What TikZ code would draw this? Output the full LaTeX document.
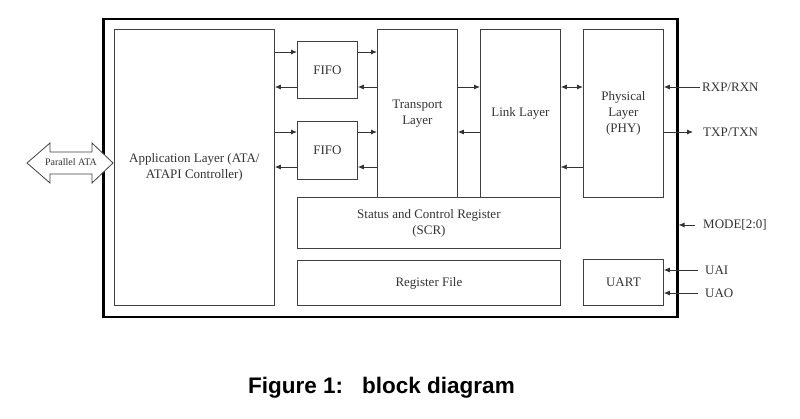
\documentclass[tikz,border=0pt]{standalone}
\usepackage{fontspec}
\setmainfont{Liberation Serif}
\setsansfont{Liberation Sans}
\usetikzlibrary{arrows.meta}
\begin{document}
\begin{tikzpicture}[x=1pt, y=-1pt,
		blk/.style={draw=black!75, line width=0.8pt, anchor=north west, inner sep=0pt, align=center, text=black!80, font=\fontsize{13}{16}\selectfont},
		sig/.style={-{Latex[length=6pt,width=5pt]}, line width=0.9pt, draw=black!80},
		lbl/.style={anchor=west, inner sep=2pt, text=black!80, font=\fontsize{13}{15}\selectfont}]
	\useasboundingbox (0,0) rectangle (800,419);
	% chip outline and blocks
	\node[draw, line width=2.5pt, minimum width=574pt, minimum height=298pt, anchor=north west] (chip) at (102,18) {};
	\node[blk, minimum width=160pt, minimum height=276pt] (app) at (114,29) {Application Layer (ATA/\\ATAPI Controller)};
	\node[blk, minimum width=263pt, minimum height=51pt] (scr) at (297,197) {Status and Control Register\\(SCR)};
	\foreach \n/\x/\t in {trans/377/Transport\\Layer, link/480/Link Layer, phy/583/Physical\\Layer\\(PHY)}{
		\node[blk, fill=white, minimum width=80pt, minimum height=168pt] (\n) at (\x,29) {\t};
	}
	\node[blk, minimum width=60pt, minimum height=57pt] (fifoA) at (297,41) {FIFO};
	\node[blk, minimum width=60pt, minimum height=58pt] (fifoB) at (297,121) {FIFO};
	\node[blk, minimum width=263pt, minimum height=45pt] (regf) at (297,260) {Register File};
	\node[blk, minimum width=80pt, minimum height=46pt] (uart) at (583,259) {UART};
	
	% data paths
	\foreach \f/\ya/\yb in {fifoA/52/87, fifoB/132/167}{
		\draw[sig] (app.east |- 0,\ya) -- (\f.west |- 0,\ya);
		\draw[sig] (\f.west |- 0,\yb) -- (app.east |- 0,\yb);
		\draw[sig] (\f.east |- 0,\ya) -- (trans.west |- 0,\ya);
		\draw[sig] (trans.west |- 0,\yb) -- (\f.east |- 0,\yb);
	}
	\draw[sig] (trans.east |- 0,87) -- (link.west |- 0,87);
	\draw[sig] (link.west |- 0,132) -- (trans.east |- 0,132);
	\draw[sig, {Latex[length=6pt,width=5pt]}-{Latex[length=6pt,width=5pt]}] (link.east |- 0,87) -- (phy.west |- 0,87);
	\draw[sig, line width=0.5pt] (phy.west |- 0,167) -- (link.east |- 0,167);
	
	% pins
	\node[lbl] (rxp) at (700,87) {RXP/RXN};
	\node[lbl] (txp) at (701,132) {TXP/TXN};
	\node[lbl] (mode) at (701,225) {MODE[2:0]};
	\node[lbl] (uai) at (703,270) {UAI};
	\node[lbl] (uao) at (703,293) {UAO};
	\draw[sig] (rxp.west) -- (phy.east |- rxp.west);
	\draw[sig] (phy.east |- txp.west) -- ([xshift=-8pt]txp.west);
	\draw[sig] ([xshift=-6pt]mode.west) -- (chip.east |- mode.west);
	\foreach \p in {uai, uao}{
		\draw[sig] ([xshift=-5pt]\p.west) -- (uart.east |- \p.west);
	}
	
	% parallel bus
	\draw[draw=black!75, line width=0.8pt, fill=white] (27,163) -- (50,143) -- (50,152) -- (92,152) -- (92,143) -- (113,163) -- (92,183) -- (92,174) -- (50,174) -- (50,183) -- cycle;
	\node[inner sep=0pt, text=black!80, font=\fontsize{10}{11}\selectfont] (pata) at (71,162) {Parallel ATA};
	
	\node[anchor=base west, inner sep=0pt, font=\fontsize{22.5}{26}\selectfont\sffamily\bfseries] (caption) at (248,393) {Figure 1:\hspace{19pt}block diagram};
\end{tikzpicture}
\end{document}
